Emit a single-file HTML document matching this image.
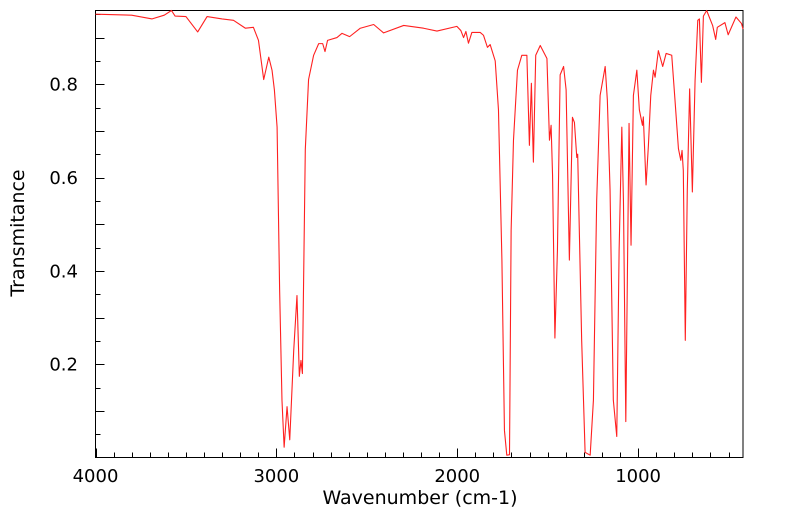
<!DOCTYPE html>
<html><head><meta charset="utf-8"><style>
html,body{margin:0;padding:0;background:#fff;}
svg text{font-family:"DejaVu Sans","Liberation Sans",sans-serif;fill:#000;}
</style></head><body>
<svg id="chart" width="799" height="516" viewBox="0 0 799 516" xmlns="http://www.w3.org/2000/svg">
<rect x="95.5" y="10.5" width="647.5" height="447" fill="none" stroke="#000" stroke-width="1"/>
<g id="ticks"></g>
<g id="labels"></g>
<path id="line" fill="none" stroke="#ff2020" stroke-width="1.1" stroke-linejoin="round"/>
<text x="420" y="504" font-size="19" text-anchor="middle">Wavenumber (cm-1)</text>
<text x="24" y="233" font-size="19" text-anchor="middle" transform="rotate(-90 24 233)">Transmitance</text>
</svg>
<script>
const wavenumbers=[4000,3800,3687,3620,3580,3560,3500,3435,3383,3300,3237,3171,3127,3099,3070,3042,3024,3011,2996,2982,2969,2957,2941,2926,2904,2886,2873,2864,2856,2840,2822,2794,2766,2744,2731,2717,2665,2637,2595,2536,2462,2407,2296,2186,2112,2002,1980,1965,1952,1938,1919,1873,1855,1833,1818,1790,1772,1753,1739,1726,1711,1702,1689,1667,1643,1615,1601,1590,1579,1566,1541,1504,1490,1481,1473,1460,1446,1431,1412,1398,1380,1363,1352,1339,1334,1312,1293,1265,1247,1229,1210,1182,1170,1155,1137,1118,1105,1090,1081,1068,1050,1039,1026,1007,993,976,971,956,943,930,915,906,888,864,845,814,796,777,764,757,750,739,728,715,700,685,670,661,650,639,621,588,571,562,520,502,459,428,420];
const transmittance=[0.95,0.948,0.94,0.948,0.958,0.946,0.945,0.912,0.945,0.94,0.937,0.92,0.922,0.894,0.81,0.858,0.83,0.788,0.708,0.36,0.123,0.022,0.109,0.038,0.23,0.347,0.174,0.208,0.18,0.66,0.81,0.862,0.887,0.887,0.87,0.894,0.9,0.909,0.902,0.92,0.928,0.91,0.926,0.92,0.914,0.924,0.915,0.9,0.913,0.888,0.911,0.911,0.905,0.879,0.885,0.85,0.745,0.423,0.058,0.005,0.006,0.487,0.68,0.83,0.862,0.862,0.669,0.802,0.633,0.862,0.883,0.855,0.68,0.712,0.605,0.256,0.444,0.82,0.838,0.788,0.423,0.729,0.718,0.643,0.65,0.251,0.011,0.005,0.123,0.551,0.776,0.838,0.766,0.573,0.123,0.045,0.444,0.708,0.55,0.077,0.716,0.455,0.776,0.83,0.745,0.712,0.73,0.584,0.669,0.776,0.83,0.815,0.872,0.838,0.866,0.862,0.766,0.662,0.637,0.658,0.615,0.251,0.573,0.79,0.569,0.808,0.937,0.94,0.804,0.946,0.958,0.926,0.896,0.922,0.932,0.906,0.944,0.93,0.918];
const xTickLabels=["4000","3000","2000","1000"];
const yTickLabels=["0.2","0.4","0.6","0.8"];
const X0=95.5,X1=743,Y0=457.5,Y1=10.5,WMAX=4000,WMIN=420,TMAX=0.958;
function xs(w){return X0+(WMAX-w)/(WMAX-WMIN)*(X1-X0);}
function ys(t){return Y0-t/TMAX*(Y0-Y1);}
const NS="http://www.w3.org/2000/svg";
let d="";
for(let i=0;i<wavenumbers.length;i++){d+=(i?"L":"M")+xs(wavenumbers[i]).toFixed(2)+" "+ys(transmittance[i]).toFixed(2);}
document.getElementById('line').setAttribute('d',d);
const tg=document.getElementById('ticks'),lg=document.getElementById('labels');
function ln(x1,y1,x2,y2){const l=document.createElementNS(NS,'line');


l.setAttribute('x1',x1);l.setAttribute('y1',y1);l.setAttribute('x2',x2);l.setAttribute('y2',y2);l.setAttribute('stroke','#000');tg.appendChild(l);}
for(let w=4000;w>=WMIN;w-=100){const x=Math.round(xs(w))+0.5;ln(x,Y0,x,Y0-(w%1000===0?9:5));}
for(let k=1;k*0.05<TMAX;k++){const y=Math.round(ys(k*0.05))+0.5;ln(X0,y,X0+(k%2===0?9:5),y);}
xTickLabels.forEach(s=>{const t=document.createElementNS(NS,'text');


t.setAttribute('x',xs(+s));t.setAttribute('y',482);t.setAttribute('font-size','18');t.setAttribute('text-anchor','middle');t.textContent=s;lg.appendChild(t);});
yTickLabels.forEach(s=>{const t=document.createElementNS(NS,'text');


t.setAttribute('x',78);t.setAttribute('y',ys(+s)+6.5);t.setAttribute('font-size','18');t.setAttribute('text-anchor','end');t.textContent=s;lg.appendChild(t);});
</script>
</body></html>
